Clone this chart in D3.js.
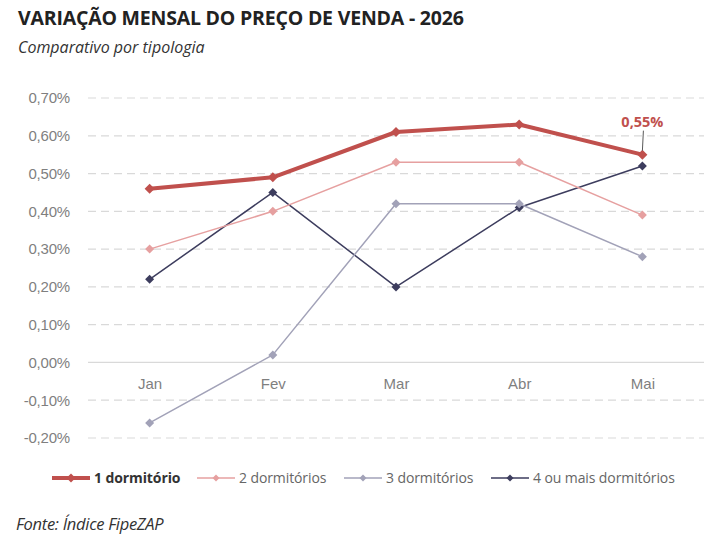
<!DOCTYPE html>
<meta charset="utf-8">
<style>
body { margin: 0; background: #fff; }
svg { font-family: "Open Sans", "Liberation Sans", sans-serif; }
.grid line { stroke: #d9d9d9; stroke-width: 1.2px; stroke-dasharray: 8 5; }
.tick text { fill: #7f7f7f; font-size: 15px; }
</style>
<body>
<svg width="720" height="540"></svg>
<script src="https://cdn.jsdelivr.net/npm/d3@7"></script>
<script>
// dados
var months = ["Jan", "Fev", "Mar", "Abr", "Mai"];
var yTicks = [-0.2, -0.1, 0, 0.1, 0.2, 0.3, 0.4, 0.5, 0.6, 0.7];
var dorm1 = [0.46, 0.49, 0.61, 0.63, 0.55];
var dorm2 = [0.30, 0.40, 0.53, 0.53, 0.39];
var dorm3 = [-0.16, 0.02, 0.42, 0.42, 0.28];
var dorm4 = [0.22, 0.45, 0.20, 0.41, 0.52];
var seriesNames = ["1 dormitório", "2 dormitórios", "3 dormitórios", "4 ou mais dormitórios"];

var series = [
  { name: seriesNames[0], values: dorm1, color: "#c0504d", width: 4, marker: 5, bold: true },
  { name: seriesNames[1], values: dorm2, color: "#e6a0a0", width: 1.5, marker: 4.5 },
  { name: seriesNames[2], values: dorm3, color: "#a2a2b8", width: 1.5, marker: 4.5 },
  { name: seriesNames[3], values: dorm4, color: "#3d3d5e", width: 1.5, marker: 4.5 }
];

var svg = d3.select("svg");

var x = d3.scalePoint().domain(months).range([88, 704]).padding(0.5);
var y = d3.scaleLinear().domain([-0.2, 0.7]).range([438, 98]);

var fmt = function(v) { return d3.format(".2f")(v).replace(".", ",").replace("−", "-") + "%"; };

// título
svg.append("text").attr("x", 18).attr("y", 25)
  .style("font-size", "19.5px").style("font-weight", "bold").style("fill", "#222")
  .style("letter-spacing", "-0.2px")
  .text("VARIAÇÃO MENSAL DO PREÇO DE VENDA - 2026");
svg.append("text").attr("x", 18).attr("y", 53)
  .style("font-size", "16px").style("font-style", "italic").style("fill", "#333")
  .text("Comparativo por tipologia");

// grade
var grid = svg.append("g").attr("class", "grid");
grid.selectAll("line").data(yTicks).enter().append("line")
  .attr("x1", 88).attr("x2", 704)
  .attr("y1", function(d) { return y(d); })
  .attr("y2", function(d) { return y(d); })
  .style("stroke-dasharray", function(d) { return d === 0 ? "none" : null; });

// eixo y
var yAxis = svg.append("g").attr("transform", "translate(70,0)")
  .call(d3.axisLeft(y).tickValues(yTicks).tickSize(0).tickFormat(fmt));
yAxis.select(".domain").remove();
yAxis.selectAll("text").attr("x", 0).style("letter-spacing", "-0.2px");

// eixo x (no zero)
var xAxis = svg.append("g").attr("transform", "translate(0," + y(0) + ")")
  .call(d3.axisBottom(x).tickSize(0));
xAxis.select(".domain").remove();
xAxis.selectAll("text").attr("dy", "1.6em");

var line = d3.line()
  .x(function(d, i) { return x(months[i]); })
  .y(function(d) { return y(d); });

var diamond = function(s) { return "M0," + (-s) + "L" + s + ",0L0," + s + "L" + (-s) + ",0Z"; };

// desenhar do último para o primeiro
series.slice().reverse().forEach(function(s) {
  svg.append("path").datum(s.values)
    .attr("fill", "none").attr("stroke", s.color)
    .attr("stroke-width", s.width).attr("stroke-linejoin", "round")
    .attr("d", line);
  svg.selectAll(null).data(s.values).enter().append("path")
    .attr("d", diamond(s.marker))
    .attr("fill", s.color)
    .attr("transform", function(d, i) { return "translate(" + x(months[i]) + "," + y(d) + ")"; });
});

// rótulo do último ponto
var last = dorm1[dorm1.length - 1];
var lx = x(months[months.length - 1]);
svg.append("line")
  .attr("x1", lx + 1).attr("y1", y(last) - 24)
  .attr("x2", lx).attr("y2", y(last) - 4)
  .attr("stroke", "#595959").attr("stroke-width", 1);
svg.append("text").attr("x", lx).attr("y", y(last) - 28)
  .attr("text-anchor", "middle")
  .style("font-size", "14.5px").style("font-weight", "bold").style("fill", "#c0504d")
  .text(fmt(last));

// legenda
var legendX = [52, 197, 344, 491];
var legend = svg.append("g").attr("transform", "translate(0,478)");
series.forEach(function(s, i) {
  var g = legend.append("g").attr("transform", "translate(" + legendX[i] + ",0)");
  g.append("line").attr("x1", 0).attr("x2", 38)
    .attr("stroke", s.color).attr("stroke-width", s.width);
  g.append("path").attr("d", diamond(s.bold ? 4.5 : 3.5))
    .attr("fill", s.color).attr("transform", "translate(19,0)");
  g.append("text").attr("x", 42).attr("y", 5)
    .style("font-size", "14px").style("fill", s.bold ? "#333" : "#666")
    .style("font-weight", s.bold ? "bold" : "normal")
    .style("letter-spacing", "-0.1px")
    .text(s.name);
});

// fonte
svg.append("text").attr("x", 16).attr("y", 530)
  .style("font-size", "16.5px").style("font-style", "italic").style("fill", "#333")
  .style("letter-spacing", "-0.3px")
  .text("Fonte: Índice FipeZAP");
</script>
</body>
